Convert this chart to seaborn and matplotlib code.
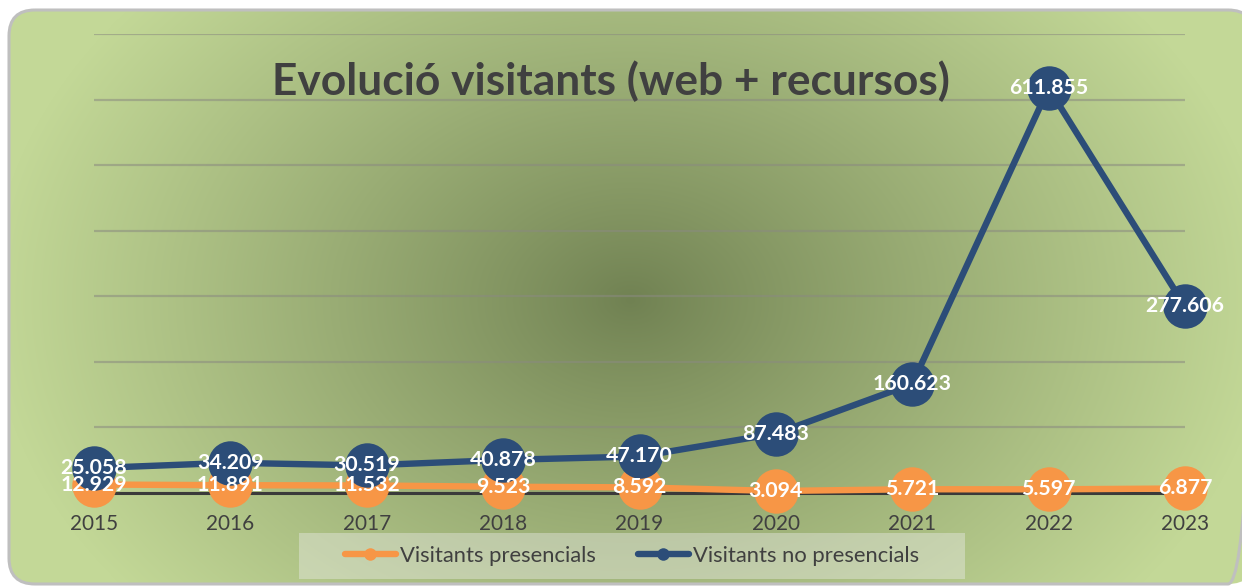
import numpy as np
import pandas as pd
import matplotlib
matplotlib.use("Agg")
import matplotlib.pyplot as plt
from matplotlib.patches import FancyBboxPatch, Rectangle
from matplotlib.lines import Line2D
import seaborn as sns

# ---- data ----
years = [2015, 2016, 2017, 2018, 2019, 2020, 2021, 2022, 2023]
presencials = [12929, 11891, 11532, 9523, 8592, 3094, 5721, 5597, 6877]
no_presencials = [25058, 34209, 30519, 40878, 47170, 87483, 160623, 611855, 277606]
series_names = ["Visitants presencials", "Visitants no presencials"]
title = "Evolució visitants (web + recursos)"

ORANGE = "#F79646"
BLUE = "#2C4D78"
TXT = "#404040"

sns.set_theme(style="white")
plt.rcParams["font.family"] = ["Lato", "DejaVu Sans"]

W, H = 1242, 587
fig = plt.figure(figsize=(W / 100, H / 100), dpi=100)
fig.patch.set_facecolor("white")

# ---- background (radial gradient in rounded box) ----
bg = fig.add_axes([0, 0, 1, 1], zorder=-10)
bg.set_xlim(0, W)
bg.set_ylim(H, 0)
bg.axis("off")
yy, xx = np.mgrid[0:H, 0:W]
r = np.sqrt(((xx - 630) / 640.0) ** 2 + ((yy - 300) / 470.0) ** 2)
t = np.clip(r, 0, 1) ** 0.9
c0 = np.array([0x70, 0x81, 0x52]) / 255.0
c1 = np.array([0xC3, 0xD8, 0x97]) / 255.0
img = c0[None, None, :] * (1 - t[..., None]) + c1[None, None, :] * t[..., None]
im = bg.imshow(img, extent=(0, W, H, 0), interpolation="bilinear", aspect="auto")
box = FancyBboxPatch((9, 10), 1245, 574, boxstyle="round,pad=0,rounding_size=26",
                     facecolor="none", edgecolor="#bfbfbf", linewidth=2.2,
                     transform=bg.transData)
bg.add_patch(box)
im.set_clip_path(box)
bg.add_patch(Rectangle((299, 533), 666, 46, facecolor="#eeeeee", alpha=0.4,
                       edgecolor="none", transform=bg.transData))

# ---- main axes ----
ax = fig.add_axes([94 / W, 94 / H, 1091 / W, 459 / H])
ax.set_facecolor("none")

stack_top = [p + n for p, n in zip(presencials, no_presencials)]
df = pd.DataFrame({
    "year": years * 2,
    "value": presencials + stack_top,
    "serie": [series_names[0]] * len(years) + [series_names[1]] * len(years),
})
ax.axhline(0, color="#3a3a3a", linewidth=2.2, zorder=1.5)
sns.lineplot(data=df, x="year", y="value", hue="serie", hue_order=series_names,
             palette=[ORANGE, BLUE], marker="o", markersize=32, markeredgewidth=0,
             linewidth=4.6, ax=ax, legend=False, zorder=3)
for ln in ax.lines:
    ln.set_clip_on(False)

ax.set_xlim(2015, 2023)
ax.set_ylim(0, 700000)
ax.set_yticks(np.arange(0, 700001, 100000))
ax.yaxis.grid(True, color="#8a8a80", alpha=0.55, linewidth=1.6)
ax.xaxis.grid(False)
ax.set_yticklabels([])
ax.tick_params(axis="y", length=0)
ax.set_xticks(years)
for s in ax.spines.values():
    s.set_visible(False)
ax.set_xlabel("")
ax.set_ylabel("")

renderer = fig.canvas.get_renderer()


def fit_size(text, target_px, **kw):
    probe = fig.text(0, 0, text, fontsize=20, **kw)
    w = probe.get_window_extent(renderer).width
    probe.remove()
    return 20 * target_px / w


tick_fs = fit_size("2015", 48)
ax.set_xticklabels([str(y) for y in years], fontsize=tick_fs, color=TXT)
ax.tick_params(axis="x", length=0, pad=15)

# data labels
lab_fs = fit_size("25.058", 67, fontweight="bold")


def fmt(v):
    return f"{v:,}".replace(",", ".")


for x, p, s in zip(years, presencials, stack_top):
    ax.text(x, p, fmt(p), ha="center", va="center", color="white",
            fontsize=lab_fs, fontweight="bold", zorder=6, clip_on=False)
for x, n, s in zip(years, no_presencials, stack_top):
    ax.text(x, s, fmt(n), ha="center", va="center", color="white",
            fontsize=lab_fs, fontweight="bold", zorder=6, clip_on=False)

# title
title_fs = fit_size(title, 678, fontweight="bold")
fig.text(611 / W, 1 - 95 / H, title, ha="center", va="baseline",
         fontsize=title_fs, fontweight="bold", color=TXT)

# legend
leg_fs = fit_size(series_names[0], 197)
handles = [Line2D([0], [0], color=c, linewidth=4.6, marker="o", markersize=9,
                  markeredgewidth=0) for c in (ORANGE, BLUE)]
leg = fig.legend(handles, series_names, loc="center",
                 bbox_to_anchor=(632 / W, 1 - 556 / H), ncol=2, frameon=False,
                 fontsize=leg_fs, handlelength=2.3, handletextpad=0.2,
                 columnspacing=1.9)
for tx in leg.get_texts():
    tx.set_color(TXT)

fig.savefig("out.png", dpi=100)
